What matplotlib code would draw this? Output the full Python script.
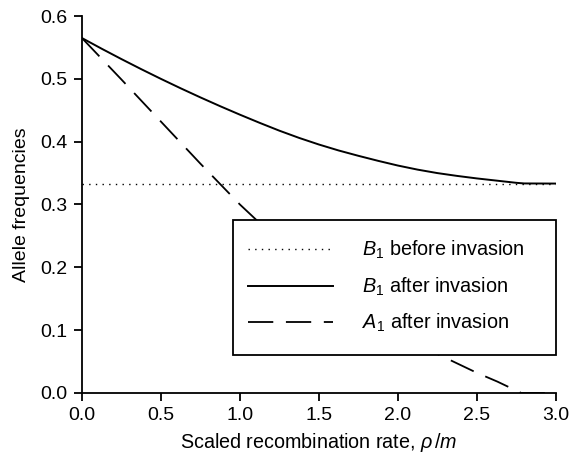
import matplotlib
matplotlib.use("Agg")
import matplotlib.pyplot as plt
from matplotlib.patches import Rectangle

plt.rcParams['font.family'] = ['Liberation Sans', 'DejaVu Sans']
plt.rcParams['mathtext.fontset'] = 'custom'
plt.rcParams['mathtext.rm'] = 'Liberation Sans'
plt.rcParams['mathtext.it'] = 'Liberation Sans:italic'
plt.rcParams['mathtext.bf'] = 'Liberation Sans:bold'

# Data
rho_b = [0.0, 0.125, 0.25, 0.375, 0.5, 0.625, 0.75, 0.875, 1.0, 1.125, 1.25, 1.375,
         1.5, 1.625, 1.75, 1.875, 2.0, 2.125, 2.25, 2.375, 2.5, 2.625, 2.75, 2.8, 3.0]
b1_after = [0.565, 0.548, 0.5315, 0.5155, 0.500, 0.485, 0.4705, 0.4565, 0.443, 0.430,
            0.4175, 0.406, 0.3955, 0.386, 0.3775, 0.3695, 0.362, 0.3555, 0.350, 0.3455,
            0.3415, 0.338, 0.3345, 0.3335, 0.3333]
rho_a = [0.0, 0.25, 0.5, 0.75, 1.0, 1.25, 1.5, 1.75, 2.0, 2.25, 2.5, 2.63, 2.78, 3.0]
a1_after = [0.565, 0.499, 0.432, 0.365, 0.300, 0.241, 0.188, 0.140, 0.098, 0.062,
            0.032, 0.018, 0.0, 0.0]
rho_line = [0.0, 3.0]
b1_before = [1/3, 1/3]

labels = [r'$B_1$ before invasion', r'$B_1$ after invasion', r'$A_1$ after invasion']
xticks = [0.0, 0.5, 1.0, 1.5, 2.0, 2.5, 3.0]
yticks = [0.0, 0.1, 0.2, 0.3, 0.4, 0.5, 0.6]

fig = plt.figure(figsize=(5.73, 4.59), dpi=100)
ax = fig.add_axes([0.143, 0.144, 0.827, 0.821])

ax.plot(rho_line, b1_before, color='black', lw=1.0, linestyle=(0, (1, 3.8)), label=labels[0])
ax.plot(rho_b, b1_after, color='black', lw=1.4, label=labels[1])
ax.plot(rho_a, a1_after, color='black', lw=1.3, linestyle=(0, (14, 7)), label=labels[2])

ax.set_xlim(0, 3.0)
ax.set_ylim(0, 0.6)
ax.set_xticks(xticks)
ax.set_yticks(yticks)
ax.set_xticklabels([f'{v:.1f}' for v in xticks])
ax.set_yticklabels([f'{v:.1f}' for v in yticks])
for s in ['top', 'right']:
    ax.spines[s].set_visible(False)
for s in ['left', 'bottom']:
    ax.spines[s].set_linewidth(1.3)
ax.tick_params(axis='both', labelsize=14, length=6, width=1.3, pad=4.5)

ax.set_xlabel(r'Scaled recombination rate, $\rho\,/m$', fontsize=14.2, labelpad=5)
ax.set_ylabel('Allele frequencies', fontsize=14, labelpad=7)

# legend frame
rect = Rectangle((0.319, 0.101), 0.681, 0.358, transform=ax.transAxes,
                 facecolor='white', edgecolor='black', lw=1.3, zorder=4.5,
                 clip_on=False)
ax.add_patch(rect)
leg = ax.legend(loc='center left', bbox_to_anchor=(0.350, 0.282),
                fontsize=14.3, frameon=False,
                handlelength=4.27, handletextpad=1.5, labelspacing=0.72,
                borderpad=0.0, borderaxespad=0.0)
leg.set_zorder(5)

fig.savefig('out.png', dpi=100)
